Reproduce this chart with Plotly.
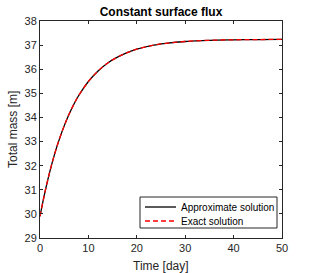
import plotly.graph_objects as go

time_days = [0, 1, 2, 3, 4, 5, 6, 7, 8, 10, 12, 14, 16, 18, 20, 23, 26, 30, 35, 40, 45, 50]
approx_mass = [29.90, 30.88, 31.73, 32.47, 33.10, 33.65, 34.13, 34.55, 34.91, 35.49, 35.93,
               36.26, 36.50, 36.69, 36.83, 36.98, 37.07, 37.15, 37.20, 37.22, 37.23, 37.24]
exact_mass = [29.90, 30.88, 31.73, 32.47, 33.10, 33.65, 34.13, 34.55, 34.91, 35.49, 35.93,
              36.26, 36.50, 36.69, 36.83, 36.98, 37.07, 37.15, 37.20, 37.22, 37.23, 37.24]
series_names = ["Approximate solution", "Exact solution"]

x_ticks = [0, 10, 20, 30, 40, 50]
y_ticks = [29, 30, 31, 32, 33, 34, 35, 36, 37, 38]

dark = "#262626"
font_family = "Liberation Sans, Arial, sans-serif"
W, H = 311, 273
# plot area in page pixels
L, R, T, B = 40, 282, 21, 238


def px_x(p):
    return (p - L) / (R - L)


def px_y(p):
    return (B - p) / (B - T)


fig = go.Figure()
fig.add_trace(go.Scatter(x=time_days, y=approx_mass, mode="lines", name=series_names[0],
                         line=dict(color="black", width=1.3, shape="spline"), showlegend=False))
fig.add_trace(go.Scatter(x=time_days, y=exact_mass, mode="lines", name=series_names[1],
                         line=dict(color="#ff0000", width=1.3, dash="5px,3px", shape="spline"),
                         showlegend=False))

axis_common = dict(showgrid=False, zeroline=False, showline=True, linecolor=dark, linewidth=1,
                   mirror="ticks", ticks="inside", ticklen=3, tickcolor=dark, automargin=False,
                   tickfont=dict(size=11, color=dark, family=font_family))

shapes = [
    dict(type="rect", xref="paper", yref="paper", x0=px_x(140), x1=px_x(277), y0=px_y(228), y1=px_y(197),
         line=dict(color=dark, width=1), fillcolor="white", layer="above"),
    dict(type="line", xref="paper", yref="paper", x0=px_x(145), x1=px_x(176), y0=px_y(207), y1=px_y(207),
         line=dict(color="black", width=1.3), layer="above"),
    dict(type="line", xref="paper", yref="paper", x0=px_x(145), x1=px_x(176), y0=px_y(221), y1=px_y(221),
         line=dict(color="#ff0000", width=1.3, dash="5px,3px"), layer="above"),
]
annotations = [
    dict(text=series_names[0], xref="paper", yref="paper", x=px_x(179), y=px_y(207), xanchor="left",
         yanchor="middle", showarrow=False, font=dict(size=10, color="black", family=font_family)),
    dict(text=series_names[1], xref="paper", yref="paper", x=px_x(179), y=px_y(221), xanchor="left",
         yanchor="middle", showarrow=False, font=dict(size=10, color="black", family=font_family)),
    dict(text="Total mass [m]", xref="paper", yref="paper", x=px_x(13), y=px_y(130), textangle=-90,
         xanchor="center", yanchor="middle", showarrow=False,
         font=dict(size=12, color=dark, family=font_family)),
    dict(text="Time [day]", xref="paper", yref="paper", x=px_x(161), y=px_y(266), xanchor="center",
         yanchor="middle", showarrow=False, font=dict(size=12, color=dark, family=font_family)),
]

fig.update_layout(
    width=W, height=H,
    margin=dict(l=L, r=W - R, t=T, b=H - B, autoexpand=False),
    paper_bgcolor="white", plot_bgcolor="white",
    font=dict(family=font_family, color=dark),
    title=dict(text="<b>Constant surface flux</b>", x=161 / W, xanchor="center",
               y=1 - 12 / H, yanchor="middle", font=dict(size=12, color="black", family=font_family)),
    xaxis=dict(range=[0, 50], tickvals=x_ticks, **axis_common),
    yaxis=dict(range=[29, 38], tickvals=y_ticks, **axis_common),
    shapes=shapes,
    annotations=annotations,
    showlegend=False,
)

fig.write_html("out.html", config={"displayModeBar": False},
               post_script="document.body.style.margin='0';")
